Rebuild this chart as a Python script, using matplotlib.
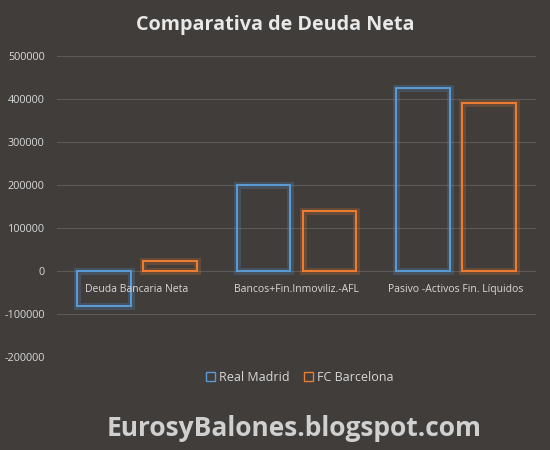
import matplotlib.pyplot as plt
import matplotlib.patheffects as pe
import numpy as np

categories = ['Deuda Bancaria Neta', 'Bancos+Fin.Inmoviliz.-AFL', 'Pasivo -Activos Fin. Líquidos']
real_madrid = [-81000, 199000, 426000]
barcelona = [22000, 138000, 390000]
series = ['Real Madrid', 'FC Barcelona']
colors = ['#5b9bd5', '#ed7d31']

bg = '#403d3b'
txt = '#d9d9d9'

plt.rcParams['font.family'] = ['Open Sans', 'DejaVu Sans']

fig = plt.figure(figsize=(5.5, 4.5), dpi=100, facecolor=bg)
ax = fig.add_axes([0.104, 0.207, 0.87, 0.669], facecolor=bg)

x = np.arange(len(categories)) + 0.5
w = 0.335
gap = 0.08
for vals, off, col, name in [(real_madrid, -(w + gap) / 2, colors[0], series[0]),
                             (barcelona, (w + gap) / 2, colors[1], series[1])]:
    bars = ax.bar(x + off, vals, width=w, facecolor='none', edgecolor=col,
                  linewidth=1.4, label=name, zorder=3)
    for b in bars:
        b.set_path_effects([pe.withStroke(linewidth=5, foreground=col, alpha=0.22),
                            pe.Normal()])

ax.set_xlim(0, 3)
ax.set_ylim(-200000, 500000)
ax.set_yticks(np.arange(-200000, 500001, 100000))
ax.yaxis.set_major_formatter(plt.FuncFormatter(lambda v, p: '%d' % v))
ax.grid(axis='y', color='#5c5957', linewidth=0.8, zorder=0)
ax.set_xticks([])
ax.tick_params(axis='y', length=0, labelsize=7.8, labelcolor=txt, pad=9)
for s in ax.spines.values():
    s.set_visible(False)

for xi, lab in zip(x, categories):
    ax.text(xi, -44000, lab, ha='center', va='center', fontsize=7.5, color=txt, zorder=4)

fig.text(0.5, 0.945, 'Comparativa de Deuda Neta', ha='center', va='center',
         fontsize=14.2, fontweight='bold', color='#e8e8e8')

leg = fig.legend(loc='center', bbox_to_anchor=(0.545, 0.162), ncol=2, frameon=False,
                 fontsize=9, labelcolor=txt, handlelength=0.7, handleheight=0.7,
                 handletextpad=0.3, columnspacing=1.2)
for h in leg.legend_handles:
    h.set_path_effects([])
    h.set_linewidth(1.0)

fig.text(0.535, 0.048, 'EurosyBalones.blogspot.com', ha='center', va='center',
         fontsize=19, fontweight='bold', color='#d0d0d0')

fig.savefig('out.png', dpi=100, facecolor=bg)
